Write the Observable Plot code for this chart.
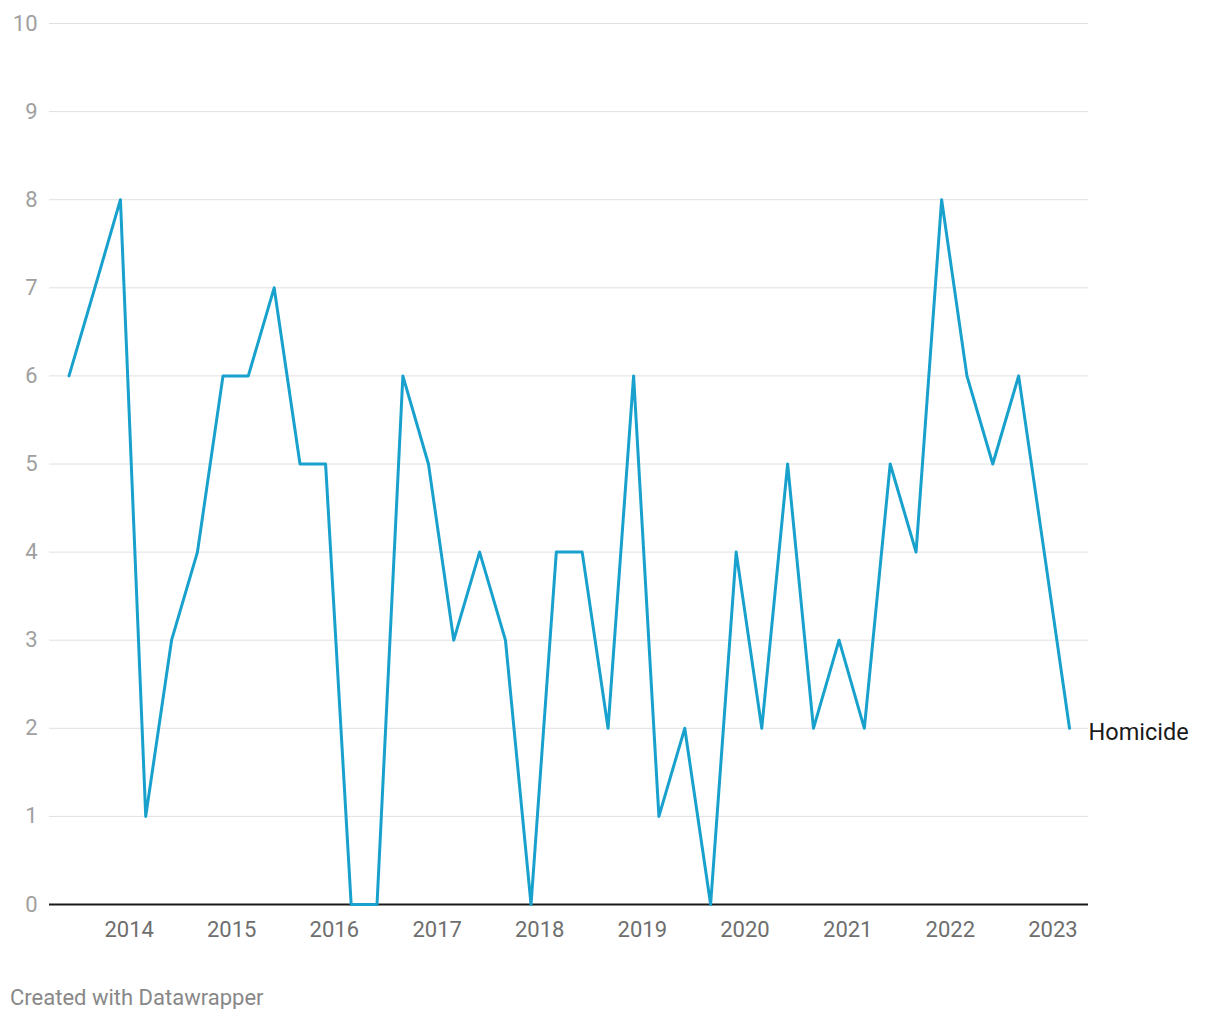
<!DOCTYPE html>
<html>
<head>
<meta charset="utf-8">
<script src="https://cdn.jsdelivr.net/npm/d3@7"></script>
<script src="https://cdn.jsdelivr.net/npm/@observablehq/plot@0.6"></script>
<style>
  body { margin: 0; background: #fff; font-family: Roboto, sans-serif; }
  #footer { font-family: Roboto, sans-serif; font-size: 22px; color: #888; margin: 27px 0 0 10px; line-height: 1; }
</style>
</head>
<body>
<div id="chart"></div>
<div id="footer">Created with Datawrapper</div>
<script>
const dates = [
  "2013-06-01","2013-09-01","2013-12-01",
  "2014-03-01","2014-06-01","2014-09-01","2014-12-01",
  "2015-03-01","2015-06-01","2015-09-01","2015-12-01",
  "2016-03-01","2016-06-01","2016-09-01","2016-12-01",
  "2017-03-01","2017-06-01","2017-09-01","2017-12-01",
  "2018-03-01","2018-06-01","2018-09-01","2018-12-01",
  "2019-03-01","2019-06-01","2019-09-01","2019-12-01",
  "2020-03-01","2020-06-01","2020-09-01","2020-12-01",
  "2021-03-01","2021-06-01","2021-09-01","2021-12-01",
  "2022-03-01","2022-06-01","2022-09-01","2022-12-01",
  "2023-03-01"
];
const homicide = [6,7,8,1,3,4,6,6,7,5,5,0,0,6,5,3,4,3,0,4,4,2,6,1,2,0,4,2,5,2,3,2,5,4,8,6,5,6,4,2];
const seriesName = "Homicide";
const yTicks = [0,1,2,3,4,5,6,7,8,9,10];
const xTickYears = ["2014","2015","2016","2017","2018","2019","2020","2021","2022","2023"];

const data = dates.map((d, i) => ({date: new Date(d + "T00:00:00Z"), value: homicide[i]}));
const last = data[data.length - 1];

const plot = Plot.plot({
  width: 1220,
  height: 960,
  marginLeft: 49,
  marginRight: 132,
  marginTop: 23,
  marginBottom: 56,
  style: {fontFamily: "Roboto, sans-serif", background: "#fff"},
  x: {
    type: "utc",
    domain: [data[0].date, last.date],
    insetLeft: 19.5,
    insetRight: 19
  },
  y: {domain: [0, 10]},
  marks: [
    Plot.ruleY(yTicks.filter(d => d > 0), {stroke: "#e0e0e0", strokeWidth: 1}),
    Plot.axisY(yTicks, {tickSize: 0, tickPadding: 12, fontSize: 22, fill: "#a0a0a0", label: null, tickFormat: d3.format("d")}),
    Plot.axisX(xTickYears.map(y => new Date(y + "-01-01T00:00:00Z")), {
      tickSize: 0, tickPadding: 17, fontSize: 22, fill: "#6e6e6e", tickFormat: d3.utcFormat("%Y"), label: null
    }),
    Plot.ruleY([0], {stroke: "#1a1a1a", strokeWidth: 2}),
    Plot.line(data, {x: "date", y: "value", stroke: "#18a1cd", strokeWidth: 3, strokeLinejoin: "round", strokeLinecap: "round"}),
    Plot.text([last], {x: "date", y: "value", text: () => seriesName, textAnchor: "start", dx: 19, dy: 4, fontSize: 23.5, fill: "#1a1a1a"})
  ]
});
document.getElementById("chart").appendChild(plot);
</script>
</body>
</html>
